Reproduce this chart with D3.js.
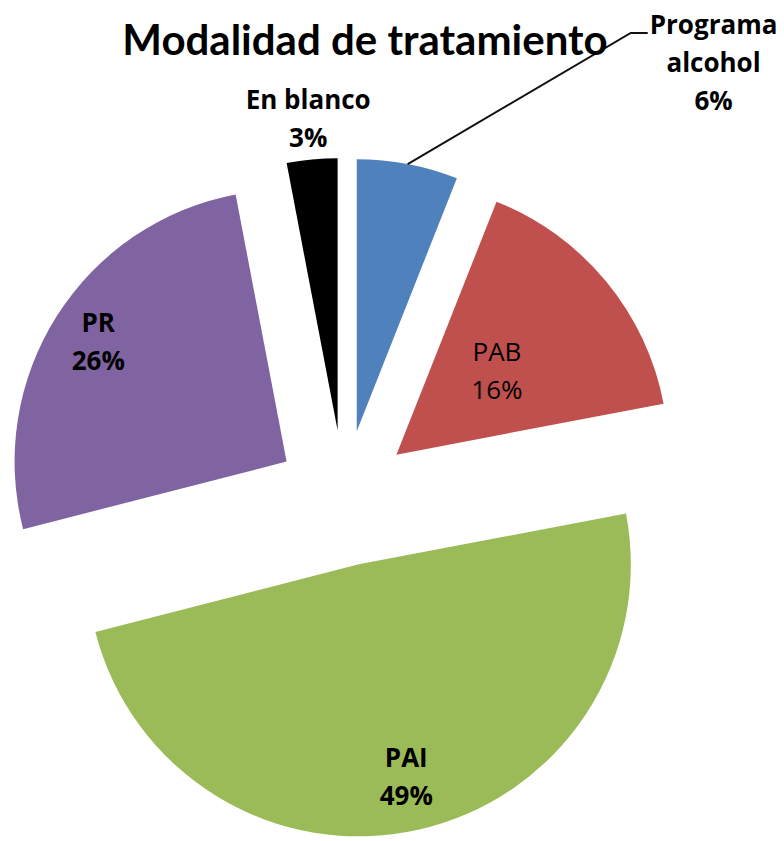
<!DOCTYPE html>
<html>
<head>
<meta charset="utf-8">
<script src="https://cdn.jsdelivr.net/npm/d3@7"></script>
<style>
  body { margin: 0; background: #fff; }
  svg { display: block; }
</style>
</head>
<body>
<svg id="chart" width="784" height="841"></svg>
<script>
// Data
var categories = ["Programa alcohol", "PAB", "PAI", "PR", "En blanco"];
var values = [6, 16, 49, 26, 3];
var percentLabels = ["6%", "16%", "49%", "26%", "3%"];
var colors = ["#4F81BD", "#C0504D", "#9BBB59", "#8064A2", "#000000"];

var titleText = "Modalidad de tratamiento";

// Layout
var width = 784, height = 841;
var cx = 344, cy = 498;       // pie centre
var radius = 272;
var explode = 68;             // offset of every slice from the centre
var lineHeight = 38;
var labelFont = "'Open Sans', Lato, sans-serif";
var titleFont = "Lato, 'Open Sans', sans-serif";

// label placement per slice: radius from slice apex (fraction of radius),
// optional angle override in degrees, bold or not, text lines
var labelStyle = {
    "Programa alcohol": { r: 1.885, angle: 44.1, bold: true, lines: ["Programa", "alcohol"] },
    "PAB":              { r: 0.48, bold: false, lines: ["PAB"] },
    "PAI":              { r: 0.80, bold: true, lines: ["PAI"] },
    "PR":               { r: 0.82, bold: true, lines: ["PR"] },
    "En blanco":        { r: 1.15, bold: true, lines: ["En blanco"] }
};

function polar(angle, r) {
    // d3.pie angles: 0 at 12 o'clock, clockwise
    return [r * Math.sin(angle), -r * Math.cos(angle)];
}

function main() {
    var svg = d3.select("#chart");

    svg.append("rect")
        .attr("width", width)
        .attr("height", height)
        .attr("fill", "#fff");

    var data = categories.map(function(c, i) {
        return { name: c, value: values[i], pct: percentLabels[i], color: colors[i] };
    });

    var pie = d3.pie()
        .sort(null)
        .value(d => d.value);

    var arc = d3.arc()
        .innerRadius(0)
        .outerRadius(radius);

    var arcs = pie(data);

    var g = svg.append("g")
        .attr("transform", "translate(" + cx + "," + cy + ")");

    // slices, each pushed out along its mid angle
    var slices = g.selectAll("g.slice")
        .data(arcs)
        .enter()
        .append("g")
        .attr("class", "slice")
        .attr("transform", function(d) {
            var mid = (d.startAngle + d.endAngle) / 2;
            var p = polar(mid, explode);
            return "translate(" + p[0] + "," + p[1] + ")";
        });

    slices.append("path")
        .attr("d", arc)
        .attr("fill", d => d.data.color);

    // labels
    slices.each(function(d) {
        var s = labelStyle[d.data.name];
        var mid = (d.startAngle + d.endAngle) / 2;
        var a = s.angle !== undefined ? s.angle * Math.PI / 180 : mid;
        var p = polar(a, s.r * radius);
        var lines = s.lines.concat([d.data.pct]);
        var n = lines.length;

        var text = d3.select(this).append("text")
            .attr("text-anchor", "middle")
            .attr("font-family", labelFont)
            .attr("font-size", "26px")
            .attr("font-weight", s.bold ? "bold" : "normal")
            .attr("fill", "#000");

        lines.forEach(function(line, i) {
            text.append("tspan")
                .attr("x", p[0])
                .attr("y", p[1] - (n - 1) * lineHeight / 2 + i * lineHeight + 9)
                .text(line);
        });

        // leader line for the label that sits away from its slice
        if (d.data.name === "Programa alcohol") {
            var start = polar(mid, radius);
            var first = text.select("tspan").node().getBBox();
            var yEnd = p[1] - (n - 1) * lineHeight / 2 + 9 - 1;
            var xEnd = first.x - 2;
            d3.select(this).insert("path", "text")
                .attr("d", d3.line()([start, [xEnd - 17, yEnd], [xEnd, yEnd]]))
                .attr("fill", "none")
                .attr("stroke", "#111")
                .attr("stroke-width", 2);
        }
    });

    // title
    svg.append("text")
        .attr("x", 365)
        .attr("y", 55)
        .attr("text-anchor", "middle")
        .attr("font-family", titleFont)
        .attr("font-size", "42px")
        .attr("font-weight", "bold")
        .attr("fill", "#000")
        .text(titleText);
}

main();
</script>
</body>
</html>
